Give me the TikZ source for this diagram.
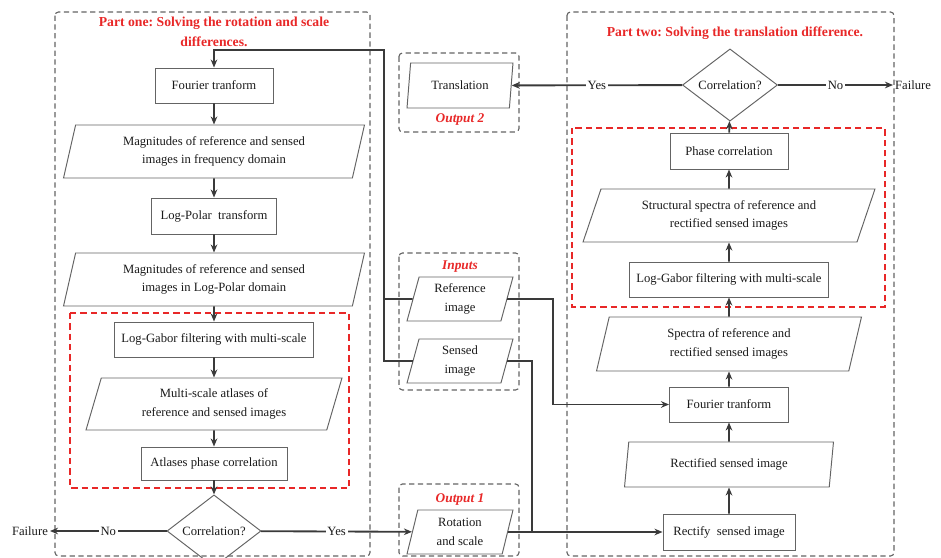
\documentclass[tikz,border=0pt]{standalone}
\usepackage{fontspec}
\setmainfont{Liberation Serif}
\usepackage{tikz}
\usetikzlibrary{shapes.geometric, arrows, arrows.meta, positioning}
\frenchspacing
\definecolor{partred}{RGB}{232,40,40}
\definecolor{linegray}{RGB}{58,58,58}
\definecolor{boxgray}{RGB}{100,100,100}
\newcommand{\flowfont}{\fontsize{7.2}{10.4}\selectfont}
\tikzset{
	process/.style={
		rectangle, 
		minimum width=2.36cm, 
		minimum height=0.7cm, 
		text centered, 
		draw=boxgray, 
		line width=0.55pt,
		text=black!90,
		font=\flowfont
	},
	data/.style={
		trapezium, 
		trapezium left angle=68, 
		trapezium right angle=112, 
		trapezium stretches body=true,
		minimum width=2.12cm, 
		minimum height=0.88cm, 
		align=center, 
		inner sep=0pt,
		draw=boxgray, 
		line width=0.55pt,
		text=black!90,
		font=\flowfont
	},
	decision/.style={
		diamond, 
		minimum width=1.88cm, 
		minimum height=1.06cm, 
		text centered, 
		draw=boxgray, 
		line width=0.55pt,
		text=black!90,
		font=\flowfont,
		inner sep=0pt
	},
	arrow/.style={line width=1.05pt,-{Stealth[length=4.6pt,width=3.8pt]},draw=linegray},
	link/.style={line width=1.05pt,draw=linegray},
	answer/.style={fill=white, inner sep=1pt, text=black!90, font=\flowfont},
	endtext/.style={inner sep=1pt, text=black!90, font=\flowfont},
	frame/.style={draw=boxgray, dash pattern=on 3pt off 2pt, rounded corners=2pt, line width=0.65pt},
	redframe/.style={draw=partred, dash pattern=on 3.6pt off 2.3pt, line width=1.05pt},
	title/.style={text=partred, align=center, font=\fontsize{7.8}{11.3}\selectfont\bfseries},
	outtitle/.style={text=partred, font=\fontsize{7.6}{9}\selectfont\bfseries\itshape}
}

\begin{document}
\begin{tikzpicture}[x=0.02cm, y=-0.02cm]
	\useasboundingbox (0,0) rectangle (941,558);
	
	% frames
	\draw [frame] (55,12) rectangle (370,556);
	\draw [frame] (567,12) rectangle (894,556);
	\draw [frame] (399,53) rectangle (519,132);
	\draw [frame] (399,253) rectangle (519,390);
	\draw [frame] (399,484) rectangle (519,556);
	\draw [redframe] (70,313) rectangle (349,488);
	\draw [redframe] (572,128) rectangle (885,307);
	
	\node (title1) [title] at (214,32) {Part one: Solving the rotation and scale\\differences.};
	\node (title2) [title] at (735,33) {Part two: Solving the translation difference.};
	\node (out2) [outtitle] at (460,119) {Output 2};
	\node (inputs) [outtitle] at (460,267) {Inputs};
	\node (out1) [outtitle] at (460,499) {Output 1};
	
	% part one
	\node (fft1) [process] at (214,85.5) {Fourier tranform};
	\node (mag1) [data, minimum width=6.02cm, minimum height=1.06cm] at (214,151.5) {Magnitudes of reference and sensed\\images in frequency domain};
	\node (logpolar) [process, minimum width=2.5cm, minimum height=0.72cm] at (214,216) {Log-Polar~ transform};
	\node (mag2) [data, minimum width=6.02cm, minimum height=1.06cm] at (214,279.5) {Magnitudes of reference and sensed\\images in Log-Polar domain};
	\node (gabor1) [process, minimum width=3.98cm] at (214,339.5) {Log-Gabor filtering with multi-scale};
	\node (atlas) [data, trapezium left angle=63, trapezium right angle=117, minimum width=5.12cm, minimum height=1.04cm] at (214,404) {Multi-scale atlases of\\reference and sensed images};
	\node (atlascorr) [process, minimum width=2.92cm, minimum height=0.66cm] at (214,463.5) {Atlases phase correlation};
	\node (corr1) [decision] at (214,531) {Correlation?};
	\node (fail1) [endtext, anchor=east] at (50,531) {Failure};
	
	% inputs and outputs
	\node (trans) [data, minimum height=0.9cm] at (460,85.5) {Translation};
	\node (refimg) [data] at (460,299) {Reference\\image};
	\node (senimg) [data] at (460,361) {Sensed\\image};
	\node (rot) [data] at (460,532) {Rotation\\and scale};
	
	% part two
	\node (corr2) [decision, minimum width=1.9cm, minimum height=1.08cm] at (730,85) {Correlation?};
	\node (fail2) [endtext, anchor=west] at (893,85) {Failure};
	\node (phase) [process, minimum height=0.72cm] at (729,151) {Phase correlation};
	\node (struct) [data, trapezium left angle=59, trapezium right angle=121, minimum width=5.84cm, minimum height=1.06cm] at (729,215.5) {Structural spectra of reference and\\rectified sensed images};
	\node (gabor2) [process, minimum width=3.98cm] at (729,279.5) {Log-Gabor filtering with multi-scale};
	\node (spectra) [data, trapezium left angle=67, trapezium right angle=113, minimum width=5.3cm, minimum height=1.08cm] at (729,344) {Spectra of reference and\\rectified sensed images};
	\node (fft2) [process, minimum width=2.38cm] at (729,404.5) {Fourier tranform};
	\node (rectified) [data, trapezium left angle=70, trapezium right angle=110, minimum width=4.18cm, minimum height=0.9cm] at (729,464.5) {Rectified sensed image};
	\node (rectify) [process, minimum width=2.64cm, minimum height=0.72cm] at (729,532) {Rectify~ sensed image};
	
	\coordinate (bustop) at (384,50);
	\coordinate (refbend) at (553,404.5);
	\coordinate (senbend) at (532,532);
	
	\draw [arrow] (fft1) -- (mag1);
	\draw [arrow] (mag1) -- (logpolar);
	\draw [arrow] (logpolar) -- (mag2);
	\draw [arrow] (mag2) -- (gabor1);
	\draw [arrow] (gabor1) -- (atlas);
	\draw [arrow] (atlas) -- (atlascorr);
	\draw [arrow] (atlascorr) -- (corr1);
	\draw [arrow] (corr1) -- node[answer] {No} (fail1);
	\draw [arrow] (corr1) -- node[answer] {Yes} (rot);
	\draw [arrow] (rot) -- (rectify);
	
	\draw [link] (refimg) -- (refimg -| bustop);
	\draw [arrow] (senimg) -| (bustop) -| (fft1);
	\draw [arrow] (refimg) -| (refbend) -- (fft2);
	\draw [link] (senimg) -| (senbend);
	
	\draw [arrow] (rectify) -- (rectified);
	\draw [arrow] (rectified) -- (fft2);
	\draw [arrow] (fft2) -- (spectra);
	\draw [arrow] (spectra) -- (gabor2);
	\draw [arrow] (gabor2) -- (struct);
	\draw [arrow] (struct) -- (phase);
	\draw [arrow] (phase) -- (corr2);
	\draw [arrow] (corr2) -- node[answer] {Yes} (trans);
	\draw [arrow] (corr2) -- node[answer] {No} (fail2);
\end{tikzpicture}
\end{document}
